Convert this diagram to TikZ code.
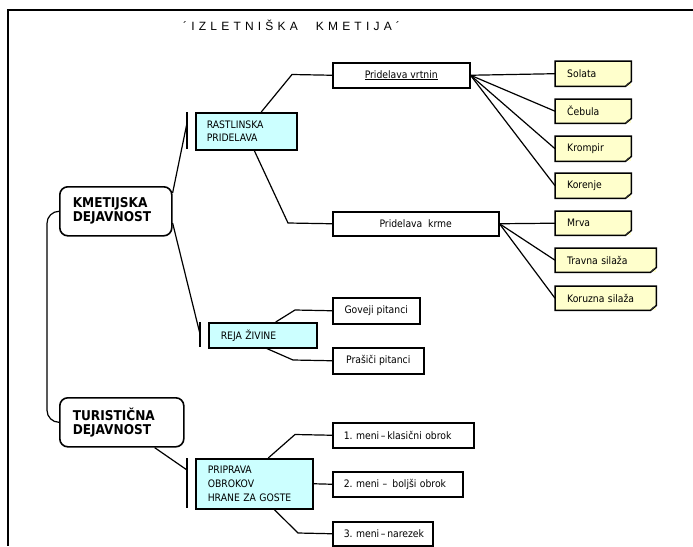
\documentclass[tikz,border=0pt]{standalone}
\usepackage{fontspec}
\setmainfont{DejaVu Sans Condensed}
\newfontfamily\titlefont[LetterSpace=35]{Liberation Sans}
\usetikzlibrary{calc}
\definecolor{cyanfill}{HTML}{CCFFFF}
\definecolor{notefill}{HTML}{FFFFCC}
\frenchspacing
\begin{document}
\begin{tikzpicture}[x=1pt,y=-1pt,
  base/.style={anchor=north west, inner ysep=0pt, font=\fontsize{10.3}{12.5}\selectfont},
  box/.style={base, draw, line width=1.5pt, fill=white},
  cbox/.style={box, fill=cyanfill},
  note/.style={base, fill=notefill, inner xsep=12pt, align=left},
  main/.style={base, draw, line width=1.6pt, rounded corners=8pt, fill=white, inner xsep=13pt, align=left, font=\fontsize{13.5}{14}\bfseries\selectfont},
  sz/.style 2 args={minimum width=#1pt, minimum height=#2pt},
  conn/.style={line width=1.2pt},
  bar/.style={line width=1.5pt},
  frame/.style={line width=2.5pt}
]
\useasboundingbox (0,0) rectangle (693,546);
% frame
\coordinate (f1) at (693,10);
\coordinate (f2) at (8,10);
\coordinate (f3) at (8,546);
\draw[frame] (f1) -- (f2) -- (f3);

% title
\node[anchor=base west, inner sep=0pt] (title) at (183,30) {\titlefont\fontsize{12}{14}\selectfont ´IZLETNIŠKA\hspace{18pt}KMETIJA´};

% main boxes
\node[main, sz={112}{49}, text width=86pt] (kd) at (59,186) {KMETIJSKA\\DEJAVNOST};
\node[main, sz={124}{49}, text width=98pt] (td) at (59,397) {TURISTIČNA\\DEJAVNOST};

% second level
\node[cbox, sz={101}{37}, inner xsep=11pt, text width=79pt, align=left] (rp) at (195,112) {RASTLINSKA\\PRIDELAVA};
\node[cbox, sz={108}{25}, inner xsep=12pt, text width=84pt, align=left] (rz) at (208,322) {REJA ŽIVINE};
\node[cbox, sz={117}{50}, inner xsep=12pt, text width=93pt, align=left, font=\fontsize{10.3}{14}\selectfont] (po) at (195,458) {PRIPRAVA\\OBROKOV\\HRANE ZA GOSTE};

% third level
\node[box, sz={137}{25}] (pv) at (332,62) {\underline{Pridelava vrtnin}};
\node[box, sz={166}{24}] (pk) at (332,211) {Pridelava\ \ krme};
\node[box, sz={87}{26}] (gp) at (332,297) {Goveji pitanci};
\node[box, sz={91}{26}] (pp) at (332,347) {Prašiči pitanci};
\node[box, sz={141}{25}, inner xsep=11pt, text width=119pt, align=left] (m1) at (332,422) {\mbox{1. meni\,--\,klasični obrok}};
\node[box, sz={130}{25}, inner xsep=11pt, text width=108pt, align=left] (m2) at (332,471) {\mbox{2. meni -- \,boljši obrok}};
\node[box, sz={100}{24}, inner xsep=11pt, text width=78pt, align=left] (m3) at (332,521) {\mbox{3. meni\,--\,narezek}};

% leaves
\node[note, sz={76}{25}, text width=52pt] (s1) at (555,61) {Solata};
\node[note, sz={76}{24}, text width=52pt] (s2) at (555,99) {Čebula};
\node[note, sz={76}{25}, text width=52pt] (s3) at (555,136) {Krompir};
\node[note, sz={76}{25}, text width=52pt] (s4) at (555,173) {Korenje};
\node[note, sz={76}{24}, text width=52pt] (k1) at (555,211) {Mrva};
\node[note, sz={101}{24}, text width=77pt] (k2) at (555,248) {Travna silaža};
\node[note, sz={101}{24}, text width=77pt] (k3) at (555,286) {Koruzna silaža};
\foreach \n in {s1,s2,s3,s4,k1,k2,k3}{
  \draw[line width=1.5pt, line join=miter] (\n.north west) -- (\n.north east) -- ([yshift=5pt]\n.south east) -- ([xshift=-6pt]\n.south east) -- (\n.south west) -- cycle;
  \fill[black!75] ([yshift=5pt]\n.south east) -- ([xshift=-6pt]\n.south east) -- ([xshift=-4pt,yshift=3pt]\n.south east) -- cycle;
}

% bars
\coordinate (b1t) at (187,112); \coordinate (b1b) at (187,149); \coordinate (b1m) at (187,123);
\coordinate (b2t) at (200,322); \coordinate (b2b) at (200,347); \coordinate (b2m) at (200,334);
\coordinate (b3t) at (187,458); \coordinate (b3b) at (187,508); \coordinate (b3m) at (187,470);
\draw[bar] (b1t) -- (b1b);
\draw[bar] (b2t) -- (b2b);
\draw[bar] (b3t) -- (b3b);

% connectors
\draw[conn, rounded corners=12pt] (kd.west) -| (47,316) |- (td.west);
\draw[conn] ([yshift=-7pt]kd.north east) -- (b1m);
\draw[conn] ([yshift=-37pt]kd.north east) -- (b2m);
\draw[conn] ([xshift=-30pt]td.south east) -- (b3m);

\draw[conn] ([xshift=15pt]rp.north) -- (292,74.5) -- (pv.west);
\draw[conn] ([xshift=8pt]rp.south) -- (288,223) -- (pk.west);
\foreach \n in {s1,s2,s3,s4}{ \draw[conn] (pv.east) -- (\n.west); }
\foreach \n in {k1,k2,k3}{ \draw[conn] (pk.east) -- (\n.west); }

\draw[conn] ([xshift=13pt]rz.north) -- (295,310) -- (gp.west);
\draw[conn] ([xshift=4pt]rz.south) -- (293,360) -- (pp.west);

\draw[conn] ([xshift=14pt]po.north) -- (295,434.5) -- (m1.west);
\draw[conn] (po.east) -- (m2.west);
\draw[conn] ([xshift=20pt]po.south) -- (298,533) -- (m3.west);
\end{tikzpicture}
\end{document}
